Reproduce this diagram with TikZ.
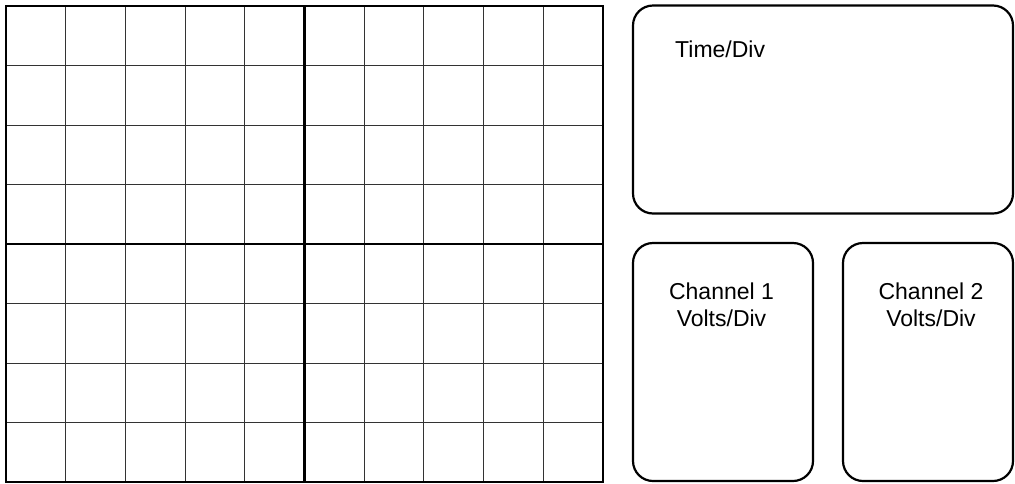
\documentclass[tikz,border=0pt]{standalone}
\usepackage{fontspec}
\setmainfont{Liberation Sans}
\begin{document}
\begin{tikzpicture}[x=1pt,y=-1pt,
  thinline/.style={line width=1pt,draw=black!80},
  thickline/.style={line width=2.2pt,draw=black},
  panel/.style={draw=black,line width=2.2pt,rounded corners=20pt,rectangle,inner sep=0pt},
  lbl/.style={font=\fontsize{23}{27.3}\selectfont,align=center,inner sep=0pt}]
\useasboundingbox (0,0) rectangle (1015,483);
% grid
\foreach \i in {1,...,9}{\draw[thinline] ({6+\i*59.7},6) -- ({6+\i*59.7},482);}
\foreach \j in {1,...,7}{\draw[thinline] (6,{6+\j*59.5}) -- (603,{6+\j*59.5});}
\draw[thickline] (304.5,6) -- (304.5,482);
\draw[thickline] (6,244) -- (603,244);
\draw[thickline] (6,6) rectangle (603,482);
% panels
\node[panel,minimum width=380pt,minimum height=208pt] (time) at (823,109.5) {};
\node[panel,minimum width=180pt,minimum height=238pt] (ch1) at (723,362) {};
\node[panel,minimum width=170pt,minimum height=238pt] (ch2) at (928,362) {};
\node[lbl,anchor=base west] (tlbl) at (675,57.3) {Time/Div};
\node[lbl] (c1lbl) at (721.5,304.5) {Channel 1\\Volts/Div};
\node[lbl] (c2lbl) at (931,304.5) {Channel 2\\Volts/Div};
\end{tikzpicture}
\end{document}
